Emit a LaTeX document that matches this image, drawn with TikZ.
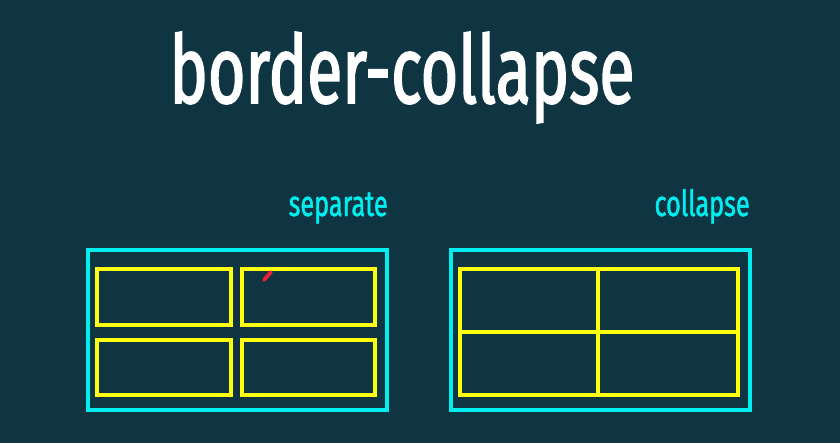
\documentclass[tikz,border=0pt]{standalone}
\usepackage{fontspec}
\setmainfont{Fira Sans}[FakeStretch=0.7,FakeBold=1.2]
\newfontfamily\titlefont{Fira Sans}[FakeStretch=0.68,FakeBold=1.6]
\usepackage{tikz}
\usetikzlibrary{positioning}

\definecolor{slidebg}{HTML}{0F3542}
\definecolor{tblcyan}{HTML}{00EEF0}
\definecolor{cellyellow}{HTML}{FFFF10}
\definecolor{penred}{HTML}{E8213A}

\tikzset{
  outerbox/.style={draw=tblcyan,line width=1.75pt},
  cellbox/.style={draw=cellyellow,line width=1.75pt},
  tbllabel/.style={text=tblcyan,font=\fontsize{20.5}{24}\selectfont,anchor=base east,inner sep=0pt}
}

\begin{document}
\begin{tikzpicture}[x=0.02cm,y=-0.02cm]
\fill[slidebg] (0,0) rectangle (840,443);
\useasboundingbox (0,0) rectangle (840,443);
\node[text=white,font=\titlefont\fontsize{54}{60}\selectfont,anchor=base,inner sep=0pt] (title) at (402,103) {border-collapse};
% separate
\begin{scope}
  \node[tbllabel] (sepLabel) at (388,216) {separate};
  \draw[outerbox] (88,250) rectangle (387,410);
  \draw[cellbox] (97,269) rectangle (231,325);
  \draw[cellbox] (242,269) rectangle (375,325);
  \draw[cellbox] (97,340) rectangle (231,395);
  \draw[cellbox] (242,340) rectangle (375,395);
  \draw[penred,line width=2.2pt,line cap=round] (264,280) -- (271,272);
\end{scope}
% collapse
\begin{scope}
  \node[tbllabel] (colLabel) at (750,216) {collapse};
  \draw[outerbox] (451,250) rectangle (750,410);
  \draw[cellbox] (460,269) rectangle (738,395);
  \draw[cellbox] (598,269) -- (598,395);
  \draw[cellbox] (460,332) -- (738,332);
\end{scope}
\end{tikzpicture}
\end{document}
